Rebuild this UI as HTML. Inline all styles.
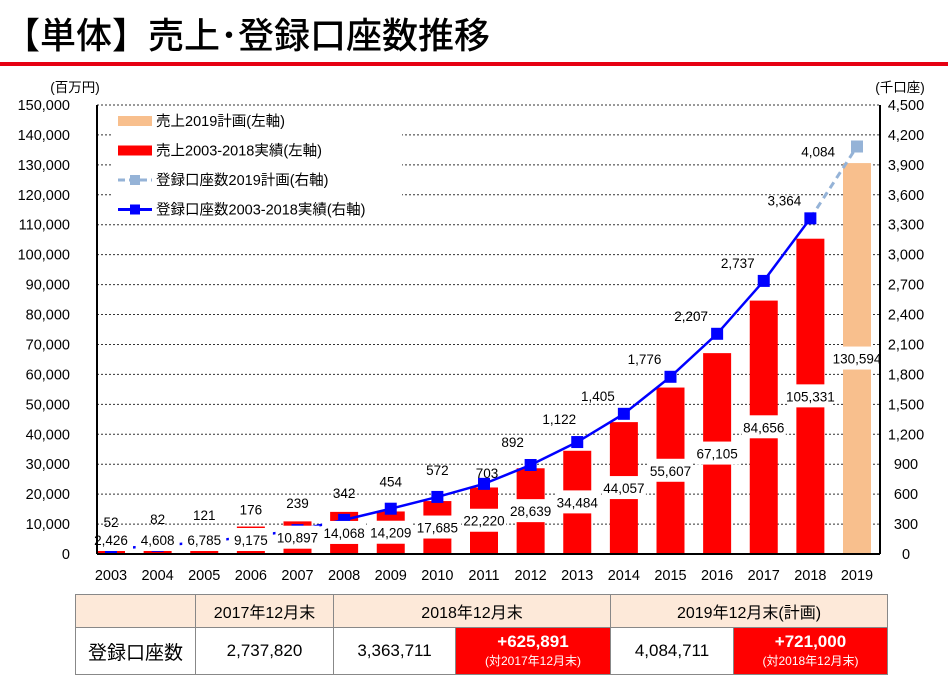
<!DOCTYPE html>
<html><head><meta charset="utf-8"><style>
body{margin:0;background:#fff;width:948px;height:681px;overflow:hidden;font-family:"Liberation Sans","Noto Sans CJK JP",sans-serif}
svg text{font-family:"Liberation Sans","Noto Sans CJK JP",sans-serif}
table{position:absolute;left:75px;top:594px;border-collapse:collapse;font-size:16px}
td{border:1px solid #888;text-align:center;padding:0}
</style></head><body>
<div style="position:absolute;left:4px;top:7px;font-size:36px;font-family:'Liberation Sans','Noto Sans CJK JP',sans-serif;font-weight:500;letter-spacing:0px">【単体】売上･登録口座数推移</div>
<div style="position:absolute;left:0;top:62px;width:948px;height:4px;background:#e60012"></div>
<svg id="chart" width="948" height="600" style="position:absolute;left:0;top:0">
<g id="grid"></g><g id="bars"></g><g id="line"></g><g id="labels"></g><g id="axes"></g>
</svg>
<table>
<tr style="height:33px;background:#fde9d9;font-size:16px">
<td style="width:119px"></td>
<td style="width:137px">2017年12月末</td>
<td colspan="2">2018年12月末</td>
<td colspan="2">2019年12月末(計画)</td></tr>
<tr style="height:47px">
<td style="font-size:19px">登録口座数</td>
<td style="font-size:17px">2,737,820</td>
<td style="width:121px;font-size:17px">3,363,711</td>
<td style="width:154px;background:#ff0000;color:#fff;font-weight:bold;line-height:18px;font-size:17px">+625,891<br><span style="font-size:12px;font-weight:normal">(対2017年12月末)</span></td>
<td style="width:122px;font-size:17px">4,084,711</td>
<td style="width:153px;background:#ff0000;color:#fff;font-weight:bold;line-height:18px;font-size:17px">+721,000<br><span style="font-size:12px;font-weight:normal">(対2018年12月末)</span></td></tr>
</table>
<script>
const years=['2003','2004','2005','2006','2007','2008','2009','2010','2011','2012','2013','2014','2015','2016','2017','2018','2019'];
const sales=[2426,4608,6785,9175,10897,14068,14209,17685,22220,28639,34484,44057,55607,67105,84656,105331,130594];
const accounts=[52,82,121,176,239,342,454,572,703,892,1122,1405,1776,2207,2737,3364];
const accountsPlan=[3364,4084];
const leftTicks=[0,10000,20000,30000,40000,50000,60000,70000,80000,90000,100000,110000,120000,130000,140000,150000];
const rightTicks=[0,300,600,900,1200,1500,1800,2100,2400,2700,3000,3300,3600,3900,4200,4500];
const NS='http://www.w3.org/2000/svg';
const X0=97,X1=880,Y0=554,Y1=105;
const xs=i=>111+i*46.625;
const yl=v=>Y0-(v/150000)*(Y0-Y1);
const yr=v=>Y0-(v/4500)*(Y0-Y1);
const fmt=v=>v.toLocaleString('en-US');
function mk(tag,attrs,parent,txt){const e=document.createElementNS(NS,tag);for(const k in attrs)e.setAttribute(k,attrs[k]);if(txt!==undefined)e.textContent=txt;document.getElementById(parent).appendChild(e);return e;}
leftTicks.forEach((t,i)=>{
 const y=yl(t);
 if(t>0){const g=mk('line',{x1:X0,x2:X1,y1:y,y2:y,stroke:'#333','stroke-dasharray':'2,2','stroke-width':1},'grid');
 
 }
 const l=mk('text',{x:70,y:y+5,'text-anchor':'end','font-size':14.5},'axes',fmt(t));
 
 
});
rightTicks.forEach(t=>{
 const l=mk('text',{x:906,y:yr(t)+5,'text-anchor':'middle','font-size':14.5},'axes',fmt(t));
 
 
});
mk('line',{x1:X0,x2:X0,y1:Y1,y2:Y0,stroke:'#000','stroke-width':2},'axes');
mk('line',{x1:X1,x2:X1,y1:Y1,y2:Y0,stroke:'#000','stroke-width':2},'axes');
mk('line',{x1:X0,x2:X1,y1:Y0,y2:Y0,stroke:'#000','stroke-width':2},'axes');
const u1=mk('text',{x:75,y:92,'text-anchor':'middle','font-size':13.5},'axes','(百万円)');


const u2=mk('text',{x:900,y:92,'text-anchor':'middle','font-size':13.5},'axes','(千口座)');


years.forEach((yv,i)=>{
 const t=mk('text',{x:xs(i),y:580,'text-anchor':'middle','font-size':14.5},'axes',yv);
 
 
});
sales.forEach((v,i)=>{
 const top=yl(v),x=xs(i);
 const b=mk('rect',{x:x-14,y:top,width:28,height:Y0-top,fill:i===16?'#f8bf8d':'#ff0000'},'bars');
 
 
 const cy=Math.min((top+Y0)/2,540);
 const bg=mk('rect',{x:x-22,y:cy-12,width:44,height:23,fill:'#fff'},'labels');
 
 
 const t=mk('text',{x:x,y:cy+5,'text-anchor':'middle','font-size':13.5},'labels',fmt(v));
 
 
});
const pts=accounts.map((v,i)=>xs(i)+','+yr(v)).join(' ');
const pl=mk('polyline',{points:pts,fill:'none',stroke:'#0000ff','stroke-width':2.5},'line');


const pp=mk('line',{x1:xs(15),y1:yr(accountsPlan[0]),x2:xs(16),y2:yr(accountsPlan[1]),stroke:'#95b3d7','stroke-width':3,'stroke-dasharray':'7,5'},'line');


const pm=mk('rect',{x:xs(16)-6,y:yr(accountsPlan[1])-6,width:12,height:12,fill:'#95b3d7'},'line');


const pt=mk('text',{x:xs(16)-22,y:yr(accountsPlan[1])+10,'text-anchor':'end','font-size':13.5},'line',fmt(accountsPlan[1]));


accounts.forEach((v,i)=>{
 const x=xs(i),y=yr(v);
 const m=mk('rect',{x:x-6,y:y-6,width:12,height:12,fill:'#0000ff'},'line');
 
 
 let dx=0,dy=-22;
 if(i===8){dx=3;dy=-6;}
 else if(i>=9&&i<=10){dx=-18;dy=-18;}
 else if(i>=11){dx=-26;dy=-13;}
 const t=mk('text',{x:x+dx,y:y+dy,'text-anchor':'middle','font-size':13.5},'line',fmt(v));
 
 
});
const lg=[['rect','#f8bf8d','売上2019計画(左軸)'],['rect','#ff0000','売上2003-2018実績(左軸)'],['plan','#95b3d7','登録口座数2019計画(右軸)'],['line','#0000ff','登録口座数2003-2018実績(右軸)']];
mk('rect',{x:112,y:108,width:290,height:96,fill:'#fff'},'axes');
lg.forEach((e,i)=>{
 const y=121+i*29.5;
 if(e[0]==='rect'){mk('rect',{x:118,y:y-5,width:34,height:10,fill:e[1]},'axes');}
 else{mk('line',{x1:118,x2:152,y1:y,y2:y,stroke:e[1],'stroke-width':3,'stroke-dasharray':e[0]==='plan'?'7,4':'none'},'axes');
 mk('rect',{x:130,y:y-5,width:10,height:10,fill:e[1]},'axes');}
 const t=mk('text',{x:156,y:y+5,'font-size':14.5},'axes',e[2]);
 
 
});
</script>
</body></html>
